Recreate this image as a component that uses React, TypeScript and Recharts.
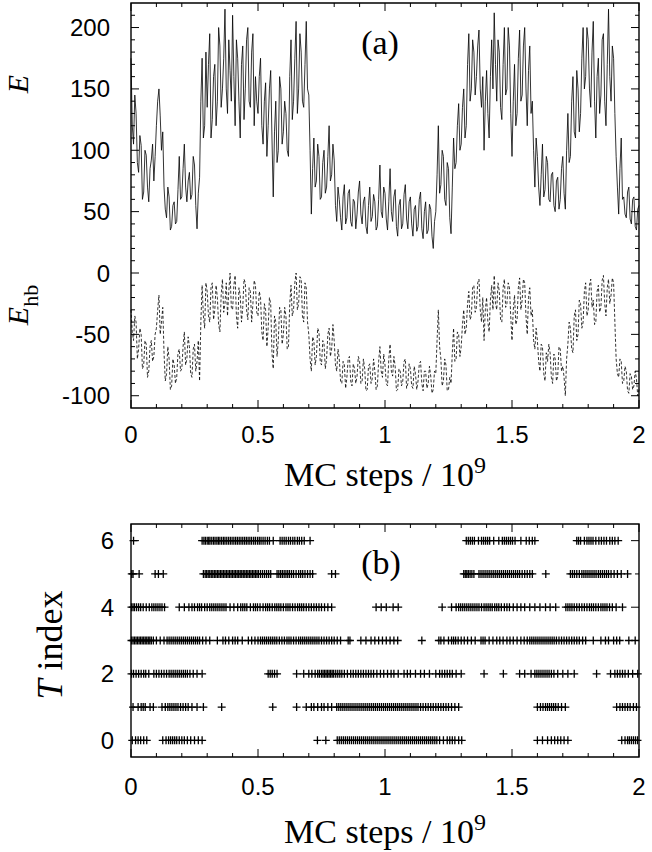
import React from 'react';
import { LineChart, Line, ScatterChart, Scatter, XAxis, YAxis, ReferenceArea } from 'recharts';

// panel (a): energies sampled every 0.005 x 10^9 MC steps, from 0 to 2
const SAMPLE_STEP = 0.005;

const E_VALUES = [
  175, 120, 105, 145, 130, 90, 82, 112, 104, 60, 66, 100, 96, 70, 58, 85, 92, 105, 75, 95,
  120, 140, 150, 128, 100, 115, 70, 52, 45, 70, 62, 35, 38, 55, 58, 40, 42, 68, 95, 60,
  62, 85, 105, 70, 58, 75, 82, 60, 64, 95, 88, 55, 36, 65, 78, 140, 175, 110, 120, 180,
  135, 170, 195, 110, 125, 160, 170, 120, 140, 200, 185, 135, 150, 175, 215, 150, 130, 190, 165, 140,
  210, 160, 120, 190, 175, 140, 110, 170, 185, 125, 150, 190, 200, 140, 135, 180, 195, 120, 160, 140,
  130, 160, 175, 120, 105, 140, 155, 95, 120, 150, 165, 110, 62, 115, 140, 90, 100, 160, 150, 105,
  115, 140, 130, 100, 95, 160, 190, 125, 140, 175, 205, 130, 150, 195, 180, 140, 135, 170, 205, 150,
  145, 100, 48, 85, 110, 70, 75, 105, 95, 60, 62, 90, 100, 65, 70, 95, 120, 75, 80, 105,
  92, 55, 42, 70, 60, 45, 35, 62, 72, 40, 45, 65, 68, 42, 38, 60, 58, 36, 48, 66,
  75, 48, 40, 58, 62, 38, 32, 55, 70, 42, 46, 64, 58, 35, 38, 60, 88, 50, 45, 70,
  65, 44, 35, 58, 85, 50, 42, 62, 68, 38, 30, 55, 60, 36, 40, 64, 72, 44, 36, 58,
  62, 40, 30, 52, 55, 34, 38, 60, 66, 36, 28, 50, 58, 32, 35, 56, 52, 30, 20, 42,
  50, 80, 120, 65, 72, 100, 95, 60, 55, 90, 85, 45, 32, 70, 110, 85, 90, 120, 138, 100,
  105, 135, 150, 110, 120, 170, 195, 140, 150, 190, 180, 145, 160, 185, 198, 150, 135, 160, 100, 140,
  165, 130, 110, 160, 190, 150, 212, 170, 140, 190, 180, 135, 125, 170, 200, 145, 150, 200, 185, 130,
  95, 140, 170, 120, 130, 175, 198, 140, 145, 185, 200, 150, 120, 165, 185, 130, 140, 100, 70, 110,
  95, 70, 55, 80, 105, 62, 68, 95, 90, 60, 58, 80, 82, 55, 50, 75, 78, 52, 60, 85,
  95, 65, 52, 100, 130, 90, 95, 140, 160, 115, 110, 165, 150, 115, 130, 175, 200, 150, 160, 200,
  190, 150, 135, 180, 205, 140, 110, 160, 175, 130, 145, 190, 195, 140, 120, 170, 215, 160, 140, 185,
  175, 130, 95, 70, 48, 85, 110, 60, 62, 48, 45, 66, 70, 44, 40, 60, 62, 38, 35, 52,
  55,
];

const EHB_VALUES = [
  -30, -48, -55, -35, -40, -70, -62, -45, -50, -78, -75, -55, -58, -85, -80, -60, -55, -72, -68, -50,
  -45, -30, -18, -50, -40, -28, -65, -88, -82, -60, -70, -95, -92, -70, -75, -90, -85, -65, -62, -80,
  -78, -60, -48, -75, -70, -52, -60, -82, -85, -62, -58, -80, -72, -55, -88, -40, -10, -35, -45, -8,
  -15, -35, -40, -12, -8, -38, -30, -10, -20, -42, -48, -18, -5, -32, -25, -8, -35, -15, 0, -28,
  -30, -10, -2, -35, -45, -12, -18, -40, -28, -5, -8, -30, -38, -12, -15, -40, -25, -6, -10, -32,
  -35, -15, -20, -48, -55, -25, -30, -60, -45, -20, -25, -65, -78, -35, -40, -68, -55, -28, -30, -58,
  -50, -28, -35, -62, -60, -25, -10, -35, -30, -8, 0, -30, -25, -3, -5, -35, -40, -8, -12, -40,
  -50, -70, -80, -52, -55, -75, -68, -45, -48, -72, -75, -55, -58, -78, -70, -50, -45, -68, -62, -42,
  -55, -75, -80, -62, -70, -88, -90, -72, -75, -94, -85, -70, -68, -88, -92, -74, -78, -90, -84, -68,
  -72, -90, -88, -70, -78, -96, -95, -76, -74, -90, -86, -70, -80, -95, -92, -72, -60, -80, -85, -66,
  -75, -90, -92, -70, -58, -80, -84, -68, -76, -96, -95, -78, -80, -92, -88, -72, -70, -94, -90, -74,
  -78, -92, -94, -76, -82, -95, -88, -74, -72, -90, -96, -80, -80, -94, -90, -76, -84, -98, -95, -80,
  -82, -55, -30, -60, -70, -92, -88, -70, -75, -96, -95, -85, -90, -65, -45, -72, -70, -48, -50, -68,
  -60, -42, -30, -50, -45, -25, -15, -38, -35, -12, -10, -32, -28, -8, -5, -30, -40, -20, -55, -30,
  -20, -40, -48, -22, -10, -30, -2, -25, -30, -8, -15, -38, -40, -12, -5, -28, -25, -8, -12, -35,
  -55, -30, -18, -42, -38, -12, -4, -30, -22, -5, -8, -35, -50, -20, -12, -35, -30, -55, -62, -45,
  -55, -72, -80, -58, -60, -82, -88, -65, -72, -58, -65, -85, -90, -66, -70, -88, -84, -60, -62, -80,
  -76, -85, -100, -70, -58, -40, -45, -62, -65, -35, -30, -55, -50, -22, -25, -45, -40, -15, -8, -35,
  -30, -10, -5, -28, -22, -42, -40, -15, -10, -32, -28, -6, -2, -25, -35, -12, -5, -25, -18, -4,
  -8, -40, -70, -82, -85, -70, -72, -90, -88, -76, -80, -96, -98, -82, -84, -95, -92, -80, -86, -100,
  -95,
];

// panel (b): visits of each temperature index, positions in 10^6 MC steps
const T0_STEPS = [
  5, 18, 28, 38, 50, 62, 125, 138, 148, 156, 164, 172, 180, 190, 200, 210, 222, 235, 250, 265, 280,
  734, 767,
  812, 820, 828, 836, 844, 852, 860, 868, 876, 884, 892, 900, 908, 916, 924, 932, 940, 948, 956, 964,
  972, 980, 988, 996, 1004, 1012, 1020, 1028, 1036, 1044, 1052, 1060, 1068, 1076, 1084, 1092, 1100,
  1108, 1116, 1124, 1132, 1140, 1148, 1156, 1164, 1172, 1180, 1188, 1196, 1204, 1215, 1230, 1245,
  1255, 1265, 1275, 1290, 1302,
  1600, 1620, 1640, 1655, 1668, 1680, 1692, 1705, 1720,
  1932, 1945, 1955, 1962, 1970, 1978, 1986, 1994,
];
const T1_STEPS = [
  8, 28, 40, 48, 56, 75, 88, 122, 135, 145, 153, 161, 169, 177, 185, 195, 205, 215, 225, 240, 260, 285,
  357, 558, 652, 690, 710, 720, 735, 750, 760, 775, 790,
  810, 818, 826, 834, 842, 850, 858, 866, 874, 882, 890, 898, 906, 914, 922, 930, 938, 946, 954, 962,
  970, 978, 986, 994, 1002, 1010, 1018, 1026, 1034, 1042, 1050, 1058, 1066, 1074, 1082, 1090, 1098,
  1106, 1114, 1122, 1130, 1140, 1150, 1160, 1170, 1180, 1190, 1200, 1210, 1220, 1230, 1240, 1250,
  1262, 1275, 1290,
  1600, 1612, 1622, 1632, 1640, 1648, 1656, 1664, 1672, 1682, 1695, 1710,
  1912, 1925, 1935, 1945, 1955, 1965, 1978, 1990,
];
const T2_STEPS = [
  2, 10, 20, 30, 40, 50, 58, 70, 90, 100, 110, 120, 130, 140, 150, 158, 166, 174, 182, 190, 198, 206,
  214, 222, 232, 245, 260, 280,
  540, 548, 556, 565, 575,
  652, 680, 700, 712, 725, 735, 742, 750, 756, 762, 768, 774, 780, 786, 792, 798, 806, 814, 822, 830,
  840, 852, 865, 875, 885, 895, 905, 915, 925, 935, 945, 955, 968, 982, 995, 1010, 1024, 1035, 1052,
  1075, 1088, 1100, 1120, 1140, 1155, 1175, 1200, 1215, 1225, 1235, 1245, 1255, 1265, 1280, 1300,
  1390, 1466,
  1530, 1550, 1575, 1590, 1598, 1606, 1614, 1622, 1630, 1638, 1646, 1655, 1665, 1680, 1700, 1720, 1745,
  1833,
  1888, 1905, 1915, 1925, 1935, 1945, 1958, 1975, 1995,
];
const T3_STEPS = [
  2, 8, 14, 20, 26, 32, 38, 44, 50, 56, 62, 68, 74, 80, 88, 100, 115, 130, 142, 150, 158, 166, 174,
  182, 190, 198, 206, 214, 222, 230, 238, 246, 254, 262, 270, 282, 295, 310,
  340, 362, 372, 385, 400, 410, 420, 438,
  462, 475, 488, 500, 510, 518, 526, 534, 542, 550, 558, 566, 574, 584, 594, 604, 614, 622, 630, 640,
  650, 660, 668, 676, 684, 692, 700, 708, 716, 724, 732, 740, 750, 760, 770, 780, 790, 800, 812, 825,
  855, 862, 905, 925, 945, 960, 975, 990, 1005, 1020, 1035, 1050,
  1145,
  1212, 1220, 1232, 1250, 1262, 1270, 1278, 1288, 1300, 1312, 1325, 1340, 1355,
  1378, 1386, 1394, 1410, 1425, 1440, 1452, 1465, 1480, 1492, 1505, 1520, 1535, 1548, 1560, 1570,
  1578, 1586, 1594, 1602, 1610, 1618, 1626, 1634, 1642, 1650, 1658, 1666, 1675, 1685, 1695, 1705,
  1715, 1725, 1735, 1745, 1755, 1765, 1778, 1790,
  1820, 1850, 1868, 1880, 1900, 1912, 1924, 1960, 1985,
];
const T4_STEPS = [
  2, 8, 14, 22, 30, 38, 48, 60, 72, 82, 90, 98, 106, 114, 122, 132,
  190, 210, 228, 240, 250, 262, 270, 278, 290, 300, 310, 318, 326, 334, 342, 350, 358, 366, 374, 390,
  405, 420, 432, 440, 448, 456, 470, 482, 490, 498, 508, 520, 530, 538, 546, 556, 566, 574, 582, 590,
  600, 610, 618, 626, 636, 646, 656, 664, 672, 680, 690, 700, 710, 720, 730, 740, 750, 762, 775, 790,
  965, 985, 1005, 1032, 1052,
  1225,
  1262, 1280, 1290, 1298, 1306, 1314, 1322, 1330, 1338, 1346, 1354, 1362, 1370, 1380, 1390, 1398,
  1406, 1414, 1422, 1432, 1440, 1448, 1458, 1470, 1480, 1490, 1505, 1520, 1535, 1550, 1570, 1590,
  1610, 1632, 1650, 1672,
  1712, 1720, 1728, 1736, 1745, 1755, 1765, 1775, 1785, 1795, 1805, 1813, 1821, 1830, 1840, 1850,
  1858, 1866, 1874, 1884, 1895, 1910, 1935,
];
const T5_STEPS = [
  3, 8, 32, 95, 108, 127,
  285, 292, 298, 304, 310, 316, 322, 328, 334, 340, 346, 352, 358, 364, 370, 376, 382, 388, 394, 400,
  406, 412, 418, 424, 430, 436, 442, 448, 454, 460, 466, 472, 478, 484, 490, 496, 502, 510, 518, 526,
  534, 542, 550,
  575, 582, 589, 596, 603, 610, 617, 624, 632, 640, 650, 660, 668, 676, 685, 695, 705, 715,
  790, 805,
  1310, 1316, 1322, 1328, 1335, 1342, 1350, 1370, 1378, 1386, 1394, 1402, 1410, 1418, 1426, 1434,
  1442, 1450, 1458, 1466, 1474, 1482, 1490, 1498, 1506, 1514, 1522, 1530, 1540, 1550, 1560, 1570, 1580,
  1633,
  1730, 1738, 1746, 1755, 1765, 1775, 1783, 1791, 1799, 1807, 1815, 1823, 1831, 1840, 1848, 1856,
  1864, 1872, 1880, 1890, 1902, 1915, 1930,
  1955,
];
const T6_STEPS = [
  10,
  280, 287, 293, 300, 306, 311, 318, 325, 331, 338, 344, 350, 357, 364, 370, 377, 384, 391, 398, 405,
  412, 419, 426, 433, 440, 447, 454, 461, 468, 475, 483, 490, 498, 505, 512, 520, 528, 537, 545,
  560,
  587, 595, 603, 611, 620, 628, 637, 645, 655, 663, 672, 682,
  705,
  1320, 1328, 1336, 1344, 1352, 1368, 1380, 1388, 1396, 1404, 1412, 1428, 1448, 1462, 1470, 1478,
  1486, 1494, 1502, 1512, 1535, 1556, 1568, 1580, 1590,
  1755, 1762, 1770, 1785, 1795, 1803, 1811, 1819, 1830, 1842, 1852, 1862, 1872, 1885, 1895, 1905, 1918,
];
const T_ROWS = [T0_STEPS, T1_STEPS, T2_STEPS, T3_STEPS, T4_STEPS, T5_STEPS, T6_STEPS];

const X_TICKS = [0, 0.5, 1, 1.5, 2];
const X_MINOR_TICKS = [0.1, 0.2, 0.3, 0.4, 0.6, 0.7, 0.8, 0.9, 1.1, 1.2, 1.3, 1.4, 1.6, 1.7, 1.8, 1.9];
const E_TICKS = [-100, -50, 0, 50, 100, 150, 200];
const E_MINOR_TICKS = [
  -90, -80, -70, -60, -40, -30, -20, -10, 10, 20, 30, 40, 60, 70, 80, 90,
  110, 120, 130, 140, 160, 170, 180, 190, 210,
];
const T_TICKS = [0, 2, 4, 6];
const T_MINOR_TICKS = [1, 3, 5];

const X_DOMAIN = [0, 2];
const E_DOMAIN = [-110, 220];
const T_DOMAIN = [-0.5, 6.5];

const topData = E_VALUES.map((e, i) => ({
  x: Number((i * SAMPLE_STEP).toFixed(3)),
  E: e,
  Ehb: EHB_VALUES[i],
}));

const rowData = T_ROWS.map((row, t) => row.map((s) => ({ x: s / 1000, t })));

const byValue = (a: number, b: number) => a - b;

const SANS = '"Liberation Sans", Arial, Helvetica, sans-serif';
const SERIF = '"Liberation Serif", "Times New Roman", serif';
const PLOT_W = 508;
const TOP_PLOT_H = 405;
const BOTTOM_PLOT_H = 233;

// ticks point into the frame and are repeated on the opposite side, gnuplot style
const makeXTick = (majors: number[], plotH: number, labelGap: number) => (props: any) => {
  const { x, y, payload } = props;
  const major = majors.includes(payload.value);
  const len = major ? 8 : 4;
  return (
    <g>
      <line x1={x} y1={y} x2={x} y2={y - len} stroke="#000" strokeWidth={1} />
      <line x1={x} y1={y - plotH} x2={x} y2={y - plotH + len} stroke="#000" strokeWidth={1} />
      {major && (
        <text x={x} y={y + labelGap} textAnchor="middle" fontFamily={SANS} fontSize={24} fill="#000">
          {payload.value}
        </text>
      )}
    </g>
  );
};

const makeYTick = (majors: number[], labelGap: number) => (props: any) => {
  const { x, y, payload } = props;
  const major = majors.includes(payload.value);
  const len = major ? 8 : 4;
  return (
    <g>
      <line x1={x} y1={y} x2={x + len} y2={y} stroke="#000" strokeWidth={1} />
      <line x1={x + PLOT_W} y1={y} x2={x + PLOT_W - len} y2={y} stroke="#000" strokeWidth={1} />
      {major && (
        <text x={x - labelGap} y={y + 8.5} textAnchor="end" fontFamily={SANS} fontSize={24} fill="#000">
          {payload.value}
        </text>
      )}
    </g>
  );
};

const Plus = (props: any) => {
  const { cx, cy } = props;
  if (cx == null || cy == null) return null;
  return (
    <path
      d={`M${cx - 4},${cy}H${cx + 4}M${cx},${cy - 4}V${cy + 4}`}
      stroke="#000"
      strokeWidth={1.3}
      fill="none"
    />
  );
};

const App = () => {
  return (
    <div style={{ position: 'absolute', left: 0, top: 0, width: 652, height: 852, background: '#fff' }}>
      <svg width={652} height={852} style={{ position: 'absolute', left: 0, top: 0 }}>
        <g fontFamily={SERIF} fill="#000">
          <text x={380} y={54} fontSize={34} textAnchor="middle">(a)</text>
          <text x={381} y={574} fontSize={34} textAnchor="middle">(b)</text>
          <text x={385} y={486} fontSize={34} textAnchor="middle">
            MC steps / 10<tspan dy={-13} fontSize={24}>9</tspan>
          </text>
          <text x={385} y={843} fontSize={34} textAnchor="middle">
            MC steps / 10<tspan dy={-13} fontSize={24}>9</tspan>
          </text>
          <text transform="translate(28,84) rotate(-90)" fontSize={30} fontStyle="italic" textAnchor="middle">E</text>
          <text transform="translate(28,305) rotate(-90)" fontSize={30} textAnchor="middle">
            <tspan fontStyle="italic">E</tspan>
            <tspan dy={10} fontSize={22}>hb</tspan>
          </text>
          <text transform="translate(62,645) rotate(-90)" fontSize={36} textAnchor="middle">
            <tspan fontStyle="italic">T</tspan> index
          </text>
        </g>
      </svg>
      <div style={{ position: 'absolute', left: 0, top: 0 }}>
        <LineChart width={652} height={500} data={topData} margin={{ top: 3, right: 13, bottom: 52, left: 0 }}>
          <XAxis
            type="number"
            dataKey="x"
            domain={X_DOMAIN}
            ticks={[...X_TICKS, ...X_MINOR_TICKS].sort(byValue)}
            interval={0}
            height={40}
            tickSize={0}
            tickMargin={0}
            tickLine={false}
            axisLine={false}
            tick={makeXTick(X_TICKS, TOP_PLOT_H, 35)}
          />
          <YAxis
            type="number"
            domain={E_DOMAIN}
            ticks={[...E_TICKS, ...E_MINOR_TICKS].sort(byValue)}
            interval={0}
            width={131}
            tickSize={0}
            tickMargin={0}
            tickLine={false}
            axisLine={false}
            tick={makeYTick(E_TICKS, 21)}
          />
          <ReferenceArea
            x1={X_DOMAIN[0]}
            x2={X_DOMAIN[1]}
            y1={E_DOMAIN[0]}
            y2={E_DOMAIN[1]}
            fill="none"
            stroke="#000"
            strokeWidth={1.4}
            ifOverflow="visible"
          />
          <Line type="linear" dataKey="E" stroke="#000" strokeWidth={0.8} dot={false} isAnimationActive={false} />
          <Line type="linear" dataKey="Ehb" stroke="#000" strokeWidth={0.8} strokeDasharray="3 2"
            dot={false} isAnimationActive={false} />
        </LineChart>
      </div>
      <div style={{ position: 'absolute', left: 0, top: 500 }}>
        <ScatterChart width={652} height={352} margin={{ top: 24, right: 13, bottom: 55, left: 0 }}>
          <XAxis
            type="number"
            dataKey="x"
            domain={X_DOMAIN}
            ticks={[...X_TICKS, ...X_MINOR_TICKS].sort(byValue)}
            interval={0}
            height={40}
            tickSize={0}
            tickMargin={0}
            tickLine={false}
            axisLine={false}
            tick={makeXTick(X_TICKS, BOTTOM_PLOT_H, 38)}
          />
          <YAxis
            type="number"
            dataKey="t"
            domain={T_DOMAIN}
            ticks={[...T_TICKS, ...T_MINOR_TICKS].sort(byValue)}
            interval={0}
            width={131}
            tickSize={0}
            tickMargin={0}
            tickLine={false}
            axisLine={false}
            tick={makeYTick(T_TICKS, 17)}
          />
          <ReferenceArea
            x1={X_DOMAIN[0]}
            x2={X_DOMAIN[1]}
            y1={T_DOMAIN[0]}
            y2={T_DOMAIN[1]}
            fill="none"
            stroke="#000"
            strokeWidth={1.4}
            ifOverflow="visible"
          />
          {rowData.map((pts, t) => (
            <Scatter key={t} data={pts} shape={Plus} isAnimationActive={false} />
          ))}
        </ScatterChart>
      </div>
    </div>
  );
};

export default App;
